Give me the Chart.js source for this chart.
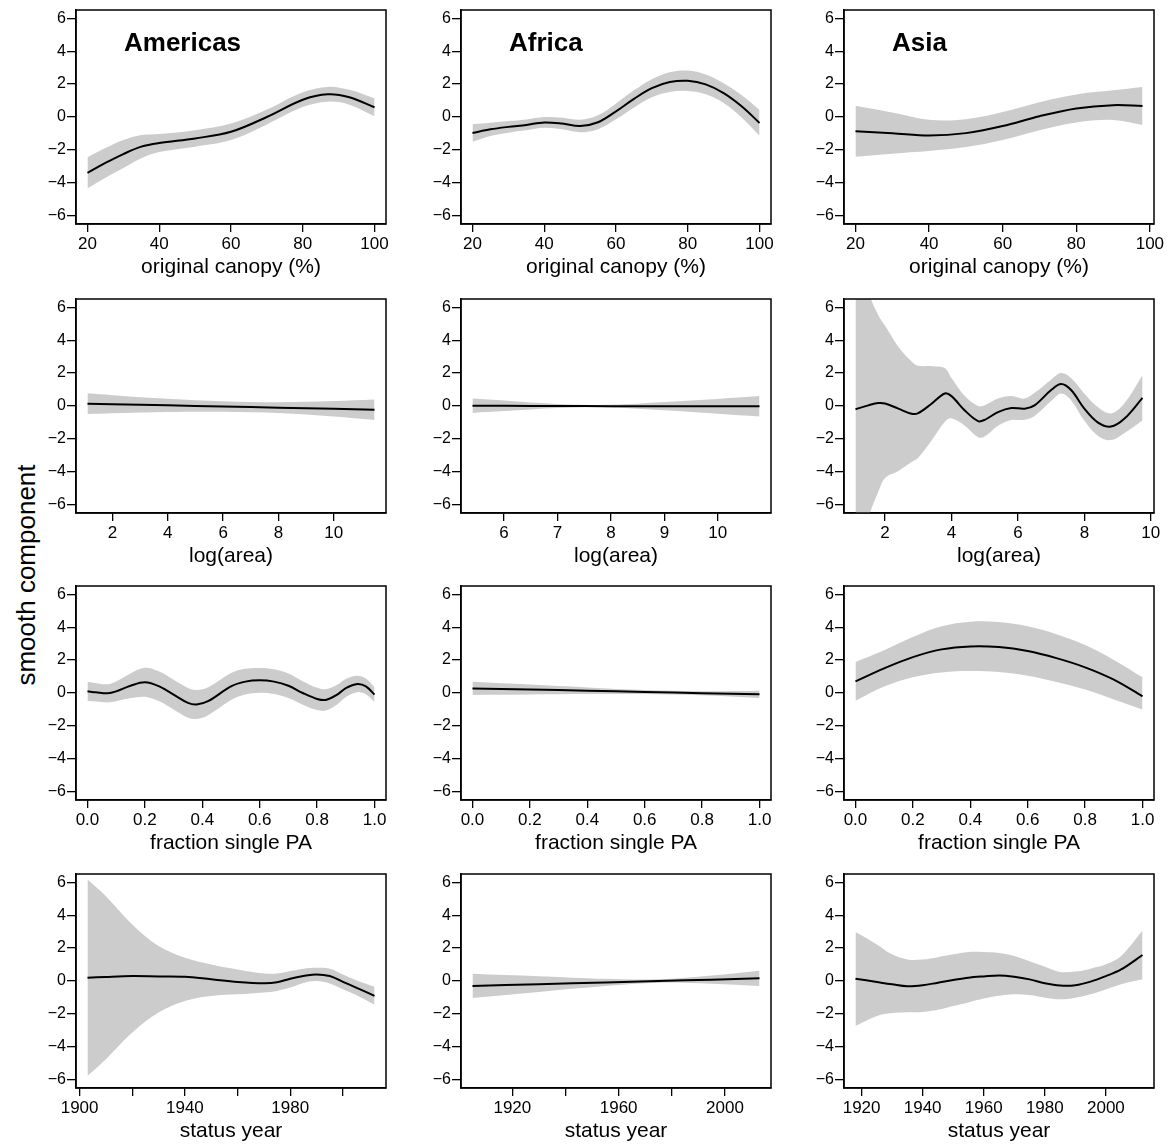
<!DOCTYPE html>
<html>
<head>
<meta charset="utf-8">
<script src="https://cdn.jsdelivr.net/npm/chart.js@4.4.1/dist/chart.umd.min.js"></script>
<style>
  body { margin: 0; background: #fff; }
  #wrap { position: relative; width: 1173px; height: 1144px; font-family: "Liberation Sans", Arial, sans-serif; }
  #wrap canvas { position: absolute; }
  #ylab { position: absolute; left: 26px; top: 575px; transform: translate(-50%, -50%) rotate(-90deg);
          font-size: 26px; white-space: nowrap; color: #000; }
</style>
</head>
<body>
<div id="wrap"><div id="ylab">smooth component</div></div>
<script>
// original canopy (%)
const canopyAmX   = [20, 25, 30, 35, 40, 50, 60, 70, 80, 87, 93, 100];
const canopyAmFit = [-3.39, -2.79, -2.25, -1.8, -1.58, -1.3, -0.9, 0.0, 1.05, 1.38, 1.2, 0.59];
const canopyAmHi  = [-2.44, -1.89, -1.4, -1.1, -1.03, -0.8, -0.4, 0.45, 1.5, 1.83, 1.65, 1.14];
const canopyAmLo  = [-4.34, -3.69, -3.1, -2.5, -2.13, -1.8, -1.4, -0.45, 0.6, 0.93, 0.75, 0.04];

const canopyAfX   = [20, 25, 30, 35, 40, 45, 50, 55, 60, 65, 70, 75, 80, 85, 90, 95, 100];
const canopyAfFit = [-0.97, -0.75, -0.6, -0.48, -0.33, -0.4, -0.55, -0.32, 0.34, 1.1, 1.75, 2.12, 2.2, 1.98, 1.45, 0.65, -0.36];
const canopyAfHi  = [-0.44, -0.35, -0.25, -0.15, 0.0, -0.05, -0.17, 0.1, 0.82, 1.62, 2.3, 2.72, 2.82, 2.58, 2.05, 1.33, 0.42];
const canopyAfLo  = [-1.5, -1.15, -0.95, -0.81, -0.66, -0.75, -0.93, -0.74, -0.14, 0.58, 1.2, 1.52, 1.58, 1.38, 0.85, -0.03, -1.14];

const canopyAsX   = [20, 30, 40, 50, 60, 70, 80, 90, 98];
const canopyAsFit = [-0.87, -0.98, -1.12, -0.98, -0.55, 0.05, 0.52, 0.72, 0.67];
const canopyAsHi  = [0.68, 0.27, -0.17, -0.13, 0.3, 0.9, 1.37, 1.62, 1.82];
const canopyAsLo  = [-2.42, -2.23, -2.07, -1.83, -1.4, -0.8, -0.33, -0.18, -0.48];

// log(area)
const areaAmX   = [1.1, 2, 4, 6, 8, 10, 11.47];
const areaAmFit = [0.14, 0.11, 0.04, -0.03, -0.1, -0.17, -0.23];
const areaAmHi  = [0.77, 0.66, 0.44, 0.29, 0.23, 0.3, 0.39];
const areaAmLo  = [-0.49, -0.44, -0.36, -0.35, -0.43, -0.64, -0.85];

const areaAfX   = [5.41, 6, 7, 8, 9, 10, 10.78];
const areaAfFit = [0.02, 0.01, 0.0, -0.01, -0.01, -0.02, -0.02];
const areaAfHi  = [0.46, 0.33, 0.12, 0.07, 0.24, 0.43, 0.6];
const areaAfLo  = [-0.42, -0.31, -0.12, -0.09, -0.26, -0.47, -0.64];

const areaAsX   = [1.11, 1.5, 1.8, 2.0, 2.4, 2.8, 3.0, 3.4, 3.8, 4.0, 4.4, 4.8, 5.0, 5.4, 5.8, 6.2, 6.5, 7.0, 7.3, 7.6, 8.0, 8.4, 8.8, 9.2, 9.75];
const areaAsFit = [-0.2, 0.04, 0.18, 0.15, -0.16, -0.47, -0.43, 0.14, 0.76, 0.6, -0.27, -0.92, -0.84, -0.37, -0.12, -0.16, 0.04, 0.97, 1.33, 0.97, -0.16, -0.99, -1.25, -0.78, 0.49];
const areaAsHi  = [9.5, 6.9, 5.5, 4.87, 3.6, 2.7, 2.44, 2.42, 2.3, 1.7, 0.6, 0.0, 0.05, 0.45, 0.6, 0.45, 0.8, 1.6, 2.0, 1.7, 0.75, -0.06, -0.45, 0.15, 1.89];
const areaAsLo  = [-10, -6.8, -5.2, -4.37, -3.95, -3.4, -3.14, -2.1, -0.95, -0.75, -1.2, -1.9, -1.85, -1.2, -0.85, -0.84, -0.6, 0.3, 0.76, 0.35, -0.9, -1.8, -2.07, -1.65, -0.88];

// fraction single PA
const fracAmX   = [0, 0.03, 0.07, 0.1, 0.15, 0.2, 0.25, 0.3, 0.35, 0.38, 0.42, 0.5, 0.55, 0.6, 0.65, 0.7, 0.75, 0.8, 0.83, 0.87, 0.9, 0.94, 0.97, 1.0];
const fracAmFit = [0.1, 0.04, -0.02, 0.1, 0.44, 0.65, 0.4, -0.1, -0.6, -0.7, -0.5, 0.4, 0.69, 0.77, 0.69, 0.44, 0.0, -0.36, -0.42, -0.1, 0.3, 0.55, 0.4, -0.1];
const fracAmHi  = [0.68, 0.59, 0.53, 0.7, 1.19, 1.53, 1.3, 0.8, 0.3, 0.18, 0.35, 1.22, 1.47, 1.52, 1.44, 1.19, 0.72, 0.32, 0.23, 0.5, 0.85, 1.05, 0.88, 0.35];
const fracAmLo  = [-0.48, -0.51, -0.57, -0.5, -0.31, -0.23, -0.5, -1.0, -1.5, -1.58, -1.35, -0.42, -0.09, 0.02, -0.06, -0.31, -0.72, -1.04, -1.07, -0.7, -0.25, 0.05, -0.08, -0.55];

const fracAfX   = [0, 0.2, 0.4, 0.6, 0.8, 1.0];
const fracAfFit = [0.28, 0.21, 0.14, 0.06, -0.01, -0.08];
const fracAfHi  = [0.68, 0.51, 0.34, 0.18, 0.11, 0.14];
const fracAfLo  = [-0.12, -0.09, -0.06, -0.06, -0.13, -0.3];

const fracAsX   = [0, 0.1, 0.2, 0.3, 0.4, 0.5, 0.6, 0.7, 0.8, 0.9, 1.0];
const fracAsFit = [0.71, 1.5, 2.18, 2.65, 2.83, 2.79, 2.55, 2.12, 1.56, 0.81, -0.2];
const fracAsHi  = [1.89, 2.6, 3.4, 4.05, 4.33, 4.31, 4.05, 3.57, 2.91, 2.01, 0.95];
const fracAsLo  = [-0.47, 0.4, 0.96, 1.25, 1.33, 1.27, 1.05, 0.67, 0.21, -0.39, -1.0];

// status year
const yearAmX   = [1903, 1910, 1920, 1930, 1940, 1950, 1960, 1970, 1975, 1980, 1985, 1990, 1995, 2000, 2005, 2012];
const yearAmFit = [0.2, 0.25, 0.3, 0.28, 0.26, 0.1, -0.06, -0.14, -0.08, 0.14, 0.3, 0.4, 0.3, -0.05, -0.4, -0.9];
const yearAmHi  = [6.16, 5.15, 3.43, 2.12, 1.41, 1.0, 0.7, 0.46, 0.45, 0.6, 0.75, 0.8, 0.75, 0.4, 0.05, -0.35];
const yearAmLo  = [-5.76, -4.75, -3.13, -1.92, -1.21, -0.91, -0.81, -0.7, -0.6, -0.4, -0.12, 0.0, -0.15, -0.5, -0.85, -1.45];

const yearAfX   = [1905, 1930, 1955, 1975, 1995, 2013];
const yearAfFit = [-0.3, -0.19, -0.09, 0.0, 0.08, 0.16];
const yearAfHi  = [0.44, 0.29, 0.13, 0.1, 0.33, 0.63];
const yearAfLo  = [-1.04, -0.67, -0.31, -0.1, -0.17, -0.31];

const yearAsX   = [1918, 1925, 1930, 1935, 1940, 1945, 1950, 1955, 1960, 1965, 1970, 1975, 1980, 1985, 1990, 1995, 2000, 2005, 2012];
const yearAsFit = [0.14, -0.06, -0.2, -0.32, -0.26, -0.1, 0.06, 0.2, 0.28, 0.34, 0.26, 0.1, -0.14, -0.28, -0.26, -0.04, 0.3, 0.7, 1.58];
const yearAsHi  = [2.97, 2.22, 1.62, 1.31, 1.31, 1.45, 1.62, 1.76, 1.76, 1.7, 1.52, 1.2, 0.87, 0.55, 0.57, 0.75, 1.01, 1.52, 3.07];
const yearAsLo  = [-2.73, -2.12, -1.95, -1.9, -1.88, -1.75, -1.52, -1.3, -1.07, -0.9, -0.81, -0.85, -1.01, -1.11, -1.01, -0.8, -0.51, -0.2, 0.1];

// tick positions
const yTicks = [-6, -4, -2, 0, 2, 4, 6];
const canopyTicks = [20, 40, 60, 80, 100];
const areaTicksWide = [2, 4, 6, 8, 10];
const areaTicksAf = [6, 7, 8, 9, 10];
const fracTicks = [0, 0.2, 0.4, 0.6, 0.8, 1];
const yearTicksAm = [1900, 1920, 1940, 1960, 1980, 2000];
const yearLabelsAm = [1900, 1940, 1980];
const yearTicksAf = [1920, 1940, 1960, 1980, 2000];
const yearLabelsAf = [1920, 1960, 2000];
const yearTicksAs = [1920, 1940, 1960, 1980, 2000];

const Y_LIM = 6.5;
const FONT = '"Liberation Sans", Arial, sans-serif';

const boxLeft = [76, 461, 844];
const boxTop = [10, 299, 586, 874];
const BOX_W = 310, BOX_H = 214;
const AXIS_W = 74, AXIS_H = 58, PAD_T = 10, PAD_R = 18;

const minus = v => String(v).replace('-', '\u2212');
const oneDec = v => v.toFixed(1);

const panels = [
  { x: canopyAmX, fit: canopyAmFit, hi: canopyAmHi, lo: canopyAmLo, ticks: canopyTicks, labels: canopyTicks, xTitle: 'original canopy (%)', title: 'Americas' },
  { x: canopyAfX, fit: canopyAfFit, hi: canopyAfHi, lo: canopyAfLo, ticks: canopyTicks, labels: canopyTicks, xTitle: 'original canopy (%)', title: 'Africa' },
  { x: canopyAsX, fit: canopyAsFit, hi: canopyAsHi, lo: canopyAsLo, ticks: canopyTicks, labels: canopyTicks, xTitle: 'original canopy (%)', title: 'Asia' },
  { x: areaAmX, fit: areaAmFit, hi: areaAmHi, lo: areaAmLo, ticks: areaTicksWide, labels: areaTicksWide, xTitle: 'log(area)' },
  { x: areaAfX, fit: areaAfFit, hi: areaAfHi, lo: areaAfLo, ticks: areaTicksAf, labels: areaTicksAf, xTitle: 'log(area)' },
  { x: areaAsX, fit: areaAsFit, hi: areaAsHi, lo: areaAsLo, ticks: areaTicksWide, labels: areaTicksWide, xTitle: 'log(area)' },
  { x: fracAmX, fit: fracAmFit, hi: fracAmHi, lo: fracAmLo, ticks: fracTicks, labels: fracTicks, fmt: oneDec, xTitle: 'fraction single PA' },
  { x: fracAfX, fit: fracAfFit, hi: fracAfHi, lo: fracAfLo, ticks: fracTicks, labels: fracTicks, fmt: oneDec, xTitle: 'fraction single PA' },
  { x: fracAsX, fit: fracAsFit, hi: fracAsHi, lo: fracAsLo, ticks: fracTicks, labels: fracTicks, fmt: oneDec, xTitle: 'fraction single PA' },
  { x: yearAmX, fit: yearAmFit, hi: yearAmHi, lo: yearAmLo, ticks: yearTicksAm, labels: yearLabelsAm, xTitle: 'status year' },
  { x: yearAfX, fit: yearAfFit, hi: yearAfHi, lo: yearAfLo, ticks: yearTicksAf, labels: yearLabelsAf, xTitle: 'status year' },
  { x: yearAsX, fit: yearAsFit, hi: yearAsHi, lo: yearAsLo, ticks: yearTicksAs, labels: yearTicksAs, xTitle: 'status year' },
];

// closed box around the plot region
const frame = {
  id: 'frame',
  afterDatasetsDraw(chart) {
    const { ctx, chartArea: a } = chart;
    ctx.save();
    ctx.strokeStyle = '#000';
    ctx.lineWidth = 1.5;
    ctx.strokeRect(a.left, a.top, a.right - a.left, a.bottom - a.top);
    ctx.restore();
  },
};

// region name in the top-left corner of the first row
const panelTitle = {
  id: 'panelTitle',
  afterDraw(chart, args, opts) {
    if (!opts.text) return;
    const { ctx, chartArea: a } = chart;
    ctx.save();
    ctx.fillStyle = '#000';
    ctx.font = 'bold 26px ' + FONT;
    ctx.textBaseline = 'middle';
    ctx.fillText(opts.text, a.left + 48, a.top + 34);
    ctx.restore();
  },
};

const wrap = document.getElementById('wrap');

panels.forEach((p, i) => {
  const col = i % 3, row = Math.floor(i / 3);
  const canvas = document.createElement('canvas');
  canvas.width = AXIS_W + BOX_W + PAD_R;
  canvas.height = PAD_T + BOX_H + AXIS_H;
  canvas.style.left = (boxLeft[col] - AXIS_W) + 'px';
  canvas.style.top = (boxTop[row] - PAD_T) + 'px';
  wrap.appendChild(canvas);

  const xs = p.x;
  const span = xs[xs.length - 1] - xs[0];
  const pts = ys => xs.map((x, k) => ({ x: x, y: ys[k] }));
  const fmtX = p.fmt || String;

  new Chart(canvas, {
    type: 'line',
    data: {
      datasets: [
        { data: pts(p.fit), borderColor: '#000', borderWidth: 2, fill: false },
        { data: pts(p.hi), borderColor: 'rgba(0,0,0,0)', borderWidth: 0, backgroundColor: '#cccccc', fill: '+1' },
        { data: pts(p.lo), borderColor: 'rgba(0,0,0,0)', borderWidth: 0, fill: false },
      ],
    },
    options: {
      responsive: false,
      animation: false,
      devicePixelRatio: 1,
      layout: { autoPadding: false, padding: { left: 0, top: PAD_T, right: PAD_R, bottom: 0 } },
      elements: {
        point: { radius: 0, hoverRadius: 0 },
        line: { tension: 0.35 },
      },
      plugins: {
        legend: { display: false },
        tooltip: { enabled: false },
        panelTitle: { text: p.title },
      },
      scales: {
        x: {
          type: 'linear',
          min: xs[0] - 0.04 * span,
          max: xs[xs.length - 1] + 0.04 * span,
          afterBuildTicks: s => { s.ticks = p.ticks.map(v => ({ value: v })); },
          afterFit: s => { s.height = AXIS_H; s.paddingLeft = 0; s.paddingRight = 0; },
          border: { display: true, color: '#000', width: 1.5 },
          grid: { drawOnChartArea: false, drawTicks: true, tickLength: 8, color: '#000', lineWidth: 1.3 },
          ticks: {
            autoSkip: false, maxRotation: 0, color: '#000', padding: 2,
            font: { family: FONT, size: 17 },
            callback: v => p.labels.includes(v) ? fmtX(v) : '',
          },
          title: {
            display: true, text: p.xTitle, color: '#000',
            font: { family: FONT, size: 21 }, padding: { top: 0, bottom: 2 },
          },
        },
        y: {
          type: 'linear',
          min: -Y_LIM,
          max: Y_LIM,
          afterBuildTicks: s => { s.ticks = yTicks.map(v => ({ value: v })); },
          afterFit: s => { s.width = AXIS_W; s.paddingTop = 0; s.paddingBottom = 0; },
          border: { display: true, color: '#000', width: 1.5 },
          grid: { drawOnChartArea: false, drawTicks: true, tickLength: 9, color: '#000', lineWidth: 1.3 },
          ticks: {
            autoSkip: false, color: '#000', padding: 1,
            font: { family: FONT, size: 16 },
            callback: v => minus(v),
          },
        },
      },
    },
    plugins: [frame, panelTitle],
  });
});
</script>
</body>
</html>
